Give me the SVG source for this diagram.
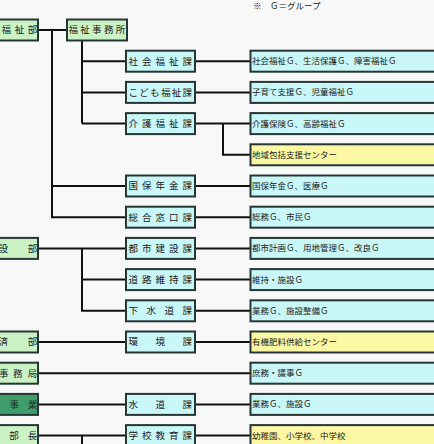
<svg xmlns="http://www.w3.org/2000/svg" width="434" height="444" viewBox="0 0 434 444">
<style>
.bx{stroke:#263634;stroke-width:2}
.dp{fill:#caf2c4}
.dd{fill:#3f9c6c}
.ka{fill:#c9f6f6}
.yl{fill:#fbf7a3}
.t{font-family:"Noto Sans CJK JP","Noto Sans CJK SC",sans-serif;font-size:9.5px;fill:#222}
.g{font-family:"Noto Sans CJK JP","Noto Sans CJK SC",sans-serif;font-size:8.5px;fill:#222}
.ln{stroke:#111;stroke-width:2;fill:none}
</style>
<rect width="434" height="444" fill="#f8f8f8"/>
<text class="g" x="253" y="9">※　Ｇ＝グループ</text>
<g id="connectors" class="ln">
<path d="M38 30H67M52 30V217.2H126M52 186H126"/>
<path d="M82 40.5V123.6M82 61.2H126M82 92.4H126M82 123.6H126"/>
<path d="M195 61.2H250M195 92.4H250M195 123.6H250M223 123.6V154.8H250M195 186H250M195 217.2H250"/>
<path d="M38 248.4H126M82 248.4V310.8H126M82 279.6H126M195 248.4H250M195 279.6H250M195 310.8H250"/>
<path d="M38 342H126M195 342H250"/>
<path d="M38 373.2H250"/>
<path d="M38 404.4H126M195 404.4H250"/>
<path d="M38 435.6H126M82 435.6V446M195 435.6H250"/>
</g>
<g id="fukushibu"><rect class="bx dp" x="-6" y="19.5" width="44" height="21"/><text class="t" x="1.5 14.8 27.8" y="33.4">福祉部</text></g>
<g id="fukushijimusho"><rect class="bx dp" x="67" y="19.5" width="60" height="21"/><text class="t" x="68.5 80.3 92.1 103.9 115.7" y="33.4">福祉事務所</text></g>
<g id="shakaifukushika"><rect class="bx ka" x="126" y="50.7" width="69" height="21"/><text class="t" x="128.5 142 155.5 169 182.5" y="64.6">社会福祉課</text></g>
<g id="kodomofukushika"><rect class="bx ka" x="126" y="81.9" width="69" height="21"/><text class="t" x="128.5 139.3 150.1 160.9 171.7 182.5" y="95.8">こども福祉課</text></g>
<g id="kaigofukushika"><rect class="bx ka" x="126" y="113.1" width="69" height="21"/><text class="t" x="128.5 142 155.5 169 182.5" y="127">介護福祉課</text></g>
<g id="kokuhonenkinka"><rect class="bx ka" x="126" y="175.5" width="69" height="21"/><text class="t" x="128.5 142 155.5 169 182.5" y="189.4">国保年金課</text></g>
<g id="sogomadoguchika"><rect class="bx ka" x="126" y="206.7" width="69" height="21"/><text class="t" x="128.5 142 155.5 169 182.5" y="220.6">総合窓口課</text></g>
<g id="kensetsubu"><rect class="bx dp" x="-6" y="237.9" width="44" height="21"/><text class="t" x="-1.5 27.8" y="251.8">設部</text></g>
<g id="toshikensetsuka"><rect class="bx ka" x="126" y="237.9" width="69" height="21"/><text class="t" x="128.5 142 155.5 169 182.5" y="251.8">都市建設課</text></g>
<g id="doroijika"><rect class="bx ka" x="126" y="269.1" width="69" height="21"/><text class="t" x="128.5 142 155.5 169 182.5" y="283">道路維持課</text></g>
<g id="gesuidoka"><rect class="bx ka" x="126" y="300.3" width="69" height="21"/><text class="t" x="128.5 146.5 164.5 182.5" y="314.2">下水道課</text></g>
<g id="keizaibu"><rect class="bx dp" x="-6" y="331.5" width="44" height="21"/><text class="t" x="-1.5 27.8" y="345.4">済部</text></g>
<g id="kankyoka"><rect class="bx ka" x="126" y="331.5" width="69" height="21"/><text class="t" x="128.5 155.5 182.5" y="345.4">環境課</text></g>
<g id="gikaijimukyoku"><rect class="bx dp" x="-6" y="362.7" width="44" height="21"/><text class="t" x="-1 13 27.8" y="376.6">事務局</text></g>
<g id="suidojigyo"><rect class="bx dd" x="-6" y="393.9" width="44" height="21"/><text class="t" x="9.5 27.8" y="407.8" style="fill:#1c3326">事業</text></g>
<g id="suidoka"><rect class="bx ka" x="126" y="393.9" width="69" height="21"/><text class="t" x="128.5 155.5 182.5" y="407.8">水道課</text></g>
<g id="bucho"><rect class="bx dp" x="-6" y="425.1" width="44" height="21"/><text class="t" x="9.3 27.8" y="439">部長</text></g>
<g id="gakkokyoikuka"><rect class="bx ka" x="126" y="425.1" width="69" height="21"/><text class="t" x="128.5 142 155.5 169 182.5" y="439">学校教育課</text></g>
<g id="g1"><rect class="bx ka" x="250.5" y="50.7" width="190" height="21"/><text class="g" x="252" y="64.2">社会福祉Ｇ、生活保護Ｇ、障害福祉Ｇ</text></g>
<g id="g2"><rect class="bx ka" x="250.5" y="81.9" width="190" height="21"/><text class="g" x="252" y="95.4">子育て支援Ｇ、児童福祉Ｇ</text></g>
<g id="g3"><rect class="bx ka" x="250.5" y="113.1" width="190" height="21"/><text class="g" x="252" y="126.6">介護保険Ｇ、高齢福祉Ｇ</text></g>
<g id="g4"><rect class="bx yl" x="250.5" y="144.3" width="190" height="21"/><text class="g" x="252" y="157.8">地域包括支援センター</text></g>
<g id="g5"><rect class="bx ka" x="250.5" y="175.5" width="190" height="21"/><text class="g" x="252" y="189">国保年金Ｇ、医療Ｇ</text></g>
<g id="g6"><rect class="bx ka" x="250.5" y="206.7" width="190" height="21"/><text class="g" x="252" y="220.2">総務Ｇ、市民Ｇ</text></g>
<g id="g7"><rect class="bx ka" x="250.5" y="237.9" width="190" height="21"/><text class="g" x="252" y="251.4">都市計画Ｇ、用地管理Ｇ、改良Ｇ</text></g>
<g id="g8"><rect class="bx ka" x="250.5" y="269.1" width="190" height="21"/><text class="g" x="252" y="282.6">維持・施設Ｇ</text></g>
<g id="g9"><rect class="bx ka" x="250.5" y="300.3" width="190" height="21"/><text class="g" x="252" y="313.8">業務Ｇ、施設整備Ｇ</text></g>
<g id="g10"><rect class="bx yl" x="250.5" y="331.5" width="190" height="21"/><text class="g" x="252" y="345">有機肥料供給センター</text></g>
<g id="g11"><rect class="bx ka" x="250.5" y="362.7" width="190" height="21"/><text class="g" x="252" y="376.2">庶務・議事Ｇ</text></g>
<g id="g12"><rect class="bx ka" x="250.5" y="393.9" width="190" height="21"/><text class="g" x="252" y="407.4">業務Ｇ、施設Ｇ</text></g>
<g id="g13"><rect class="bx yl" x="250.5" y="425.1" width="190" height="21"/><text class="g" x="252" y="438.6">幼稚園、小学校、中学校</text></g>
</svg>
